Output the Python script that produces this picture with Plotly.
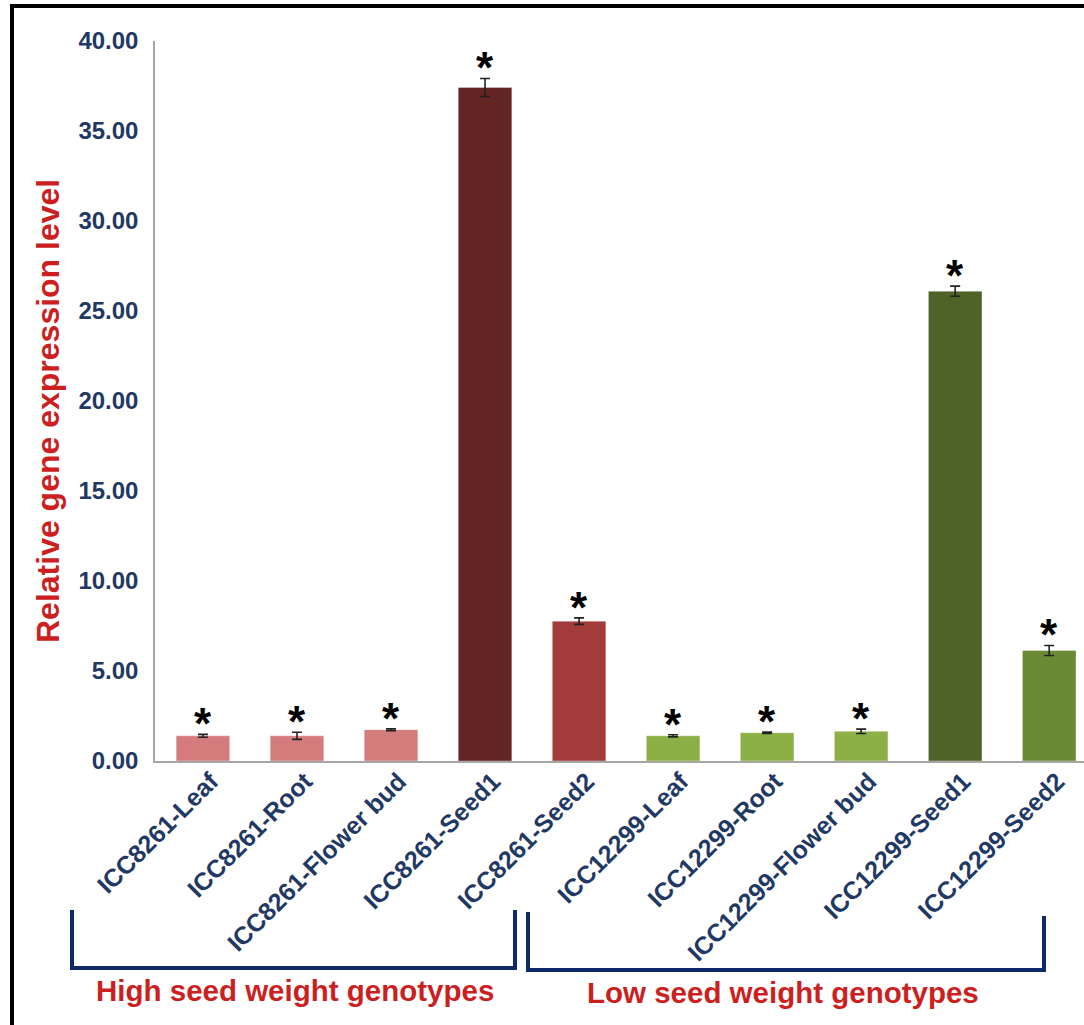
import plotly.graph_objects as go

categories = ["ICC8261-Leaf", "ICC8261-Root", "ICC8261-Flower bud", "ICC8261-Seed1", "ICC8261-Seed2",
              "ICC12299-Leaf", "ICC12299-Root", "ICC12299-Flower bud", "ICC12299-Seed1", "ICC12299-Seed2"]
values = [1.40, 1.40, 1.74, 37.42, 7.77, 1.40, 1.57, 1.65, 26.10, 6.14]
errors = [0.08, 0.20, 0.05, 0.50, 0.18, 0.06, 0.04, 0.12, 0.28, 0.28]
bar_colors = ["#D47C7C", "#D47C7C", "#D47C7C", "#632523", "#A33B3A",
              "#8CB046", "#8CB046", "#8CB046", "#4F6228", "#6B8A36"]
y_ticks = [0, 5, 10, 15, 20, 25, 30, 35, 40]
y_title = "Relative gene expression level"
group_labels = ["High seed weight genotypes", "Low seed weight genotypes"]

W, H = 1084, 1025
L, R, T, B = 155, 0, 41, 264
PW, PH = W - L - R, H - T - B

def px(x):
    return (x - L) / PW

def py(y):
    return (H - B - y) / PH

NAVY = "#1F3864"
RED = "#CC1F1F"
BRK = "#0E2A6A"
FONT = "Liberation Sans, Arial"

fig = go.Figure()
fig.add_trace(go.Bar(
    x=list(range(len(categories))), y=values, width=0.57,
    marker=dict(color=bar_colors, line=dict(color="rgba(255,255,255,0.35)", width=1)),
    error_y=dict(type="data", array=errors, visible=True, color="#222222", thickness=1.6, width=5),
    showlegend=False,
))

for i, (v, e) in enumerate(zip(values, errors)):
    fig.add_annotation(x=i, y=v + e, xref="x", yref="y", text="<b>*</b>", showarrow=False,
                       yanchor="bottom", yshift=-16, font=dict(family=FONT, size=44, color="black"))

shapes = []
def line(x0, y0, x1, y1, color, w):
    shapes.append(dict(type="line", xref="paper", yref="paper", x0=px(x0), y0=py(y0), x1=px(x1), y1=py(y1),
                       line=dict(color=color, width=w), layer="above"))

# outer frame
line(12, 6, 12, 1030, "black", 4)
line(10, 6, 1090, 6, "black", 4)
# brackets
line(72, 910, 72, 968, BRK, 4)
line(70, 968, 517, 968, BRK, 4)
line(515, 910, 515, 968, BRK, 4)
line(528, 912, 528, 970, BRK, 4)
line(526, 970, 1046, 970, BRK, 4)
line(1044, 916, 1044, 970, BRK, 4)

fig.add_annotation(x=px(295), y=py(990), xref="paper", yref="paper", text="<b>" + group_labels[0] + "</b>",
                   showarrow=False, xanchor="center", yanchor="middle",
                   font=dict(family=FONT, size=29.5, color=RED))
fig.add_annotation(x=px(783), y=py(992), xref="paper", yref="paper", text="<b>" + group_labels[1] + "</b>",
                   showarrow=False, xanchor="center", yanchor="middle",
                   font=dict(family=FONT, size=29.5, color=RED))
fig.add_annotation(x=px(48), y=py(411), xref="paper", yref="paper", text="<b>" + y_title + "</b>",
                   showarrow=False, xanchor="center", yanchor="middle", textangle=-90,
                   font=dict(family=FONT, size=32, color=RED))

fig.update_layout(
    width=W, height=H, margin=dict(l=L, r=R, t=T, b=B, autoexpand=False),
    plot_bgcolor="white", paper_bgcolor="white",
    shapes=shapes, bargap=0.43,
    xaxis=dict(range=[-0.51, 9.37], tickmode="array", tickvals=list(range(len(categories))),
               ticktext=["<b>" + c + "</b>" for c in categories], tickangle=-45,
               tickfont=dict(family=FONT, size=25, color=NAVY),
               ticklabelshift=8, ticklabelstandoff=-6,
               showline=True, linecolor="#A6A6A6", linewidth=1.5, showgrid=False, ticks="", zeroline=False),
    yaxis=dict(range=[0, 40], tickvals=y_ticks, ticktext=["<b>%.2f</b>" % t for t in y_ticks],
               tickfont=dict(family=FONT, size=24, color=NAVY),
               showline=True, linecolor="#A6A6A6", linewidth=1.5, showgrid=False, ticks="",
               ticklabelstandoff=10, zeroline=False),
)

fig.write_html("out.html", post_script="document.body.style.margin='0';",
               config={"displayModeBar": False})
